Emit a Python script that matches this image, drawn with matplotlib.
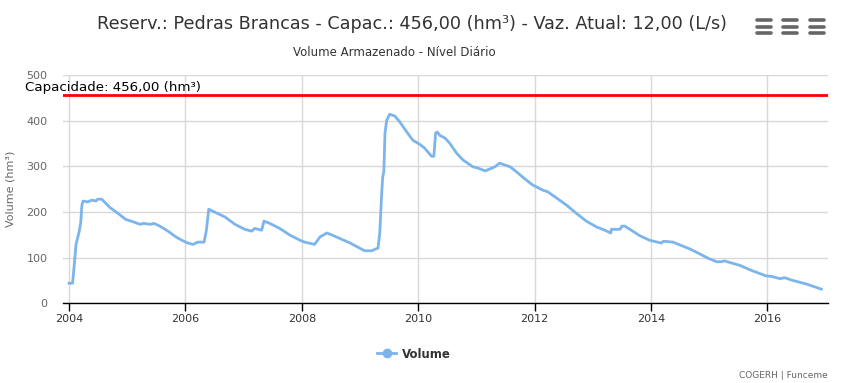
import matplotlib
matplotlib.use("Agg")
import matplotlib.pyplot as plt
from matplotlib.lines import Line2D

# decimal year / volume (hm3)
years = [2004.00, 2004.06, 2004.08, 2004.12, 2004.17, 2004.20, 2004.22, 2004.24, 2004.32, 2004.39,
         2004.46, 2004.49, 2004.56, 2004.70, 2004.84, 2004.97, 2005.11, 2005.22, 2005.28, 2005.39,
         2005.46, 2005.56, 2005.70, 2005.84, 2005.94, 2006.04, 2006.13, 2006.21, 2006.32, 2006.36,
         2006.40, 2006.50, 2006.68, 2006.85, 2007.02, 2007.14, 2007.19, 2007.31, 2007.35, 2007.45,
         2007.62, 2007.80, 2007.97, 2008.05, 2008.22, 2008.31, 2008.43, 2008.53, 2008.83, 2009.08,
         2009.20, 2009.31, 2009.34, 2009.37, 2009.39, 2009.41, 2009.43, 2009.46, 2009.51, 2009.60,
         2009.68, 2009.80, 2009.91, 2010.03, 2010.11, 2010.23, 2010.27, 2010.30, 2010.33, 2010.37,
         2010.46, 2010.54, 2010.66, 2010.77, 2010.94, 2011.03, 2011.15, 2011.23, 2011.32, 2011.40,
         2011.49, 2011.58, 2011.69, 2011.80, 2011.97, 2012.14, 2012.23, 2012.43, 2012.55, 2012.72,
         2012.89, 2013.07, 2013.21, 2013.31, 2013.32, 2013.47, 2013.50, 2013.55, 2013.64, 2013.81,
         2013.98, 2014.18, 2014.22, 2014.38, 2014.67, 2014.72, 2014.98, 2015.13, 2015.22, 2015.26,
         2015.53, 2015.75, 2015.98, 2016.07, 2016.22, 2016.30, 2016.44, 2016.68, 2016.93]
volume = [44, 44, 72, 130, 155, 177, 215, 224, 222, 226,
          224, 228, 228, 210, 197, 184, 178, 173, 175, 173,
          175, 169, 158, 145, 138, 132, 129, 134, 134, 160,
          206, 200, 189, 173, 162, 158, 164, 160, 180, 175,
          164, 149, 138, 134, 129, 145, 154, 149, 132, 115,
          115, 121, 154, 233, 276, 288, 373, 401, 414, 410,
          398, 376, 357, 348, 340, 322, 322, 373, 375, 368,
          362, 351, 329, 314, 299, 296, 290, 294, 299, 307,
          303, 299, 288, 276, 259, 248, 244, 226, 215, 197,
          180, 167, 160, 154, 162, 162, 169, 169, 162, 148,
          138, 132, 136, 134, 119, 116, 99, 91, 91, 93,
          83, 71, 60, 59, 54, 56, 50, 42, 31]
capacity = 456.0
x_ticks = [2004, 2006, 2008, 2010, 2012, 2014, 2016]
y_ticks = [0, 100, 200, 300, 400, 500]

W, H = 856, 383
fig = plt.figure(figsize=(W / 100, H / 100), dpi=100)
ax = fig.add_axes([62.7 / W, 1 - 303.3 / H, (828.3 - 62.7) / W, (303.3 - 75) / H])

ax.plot(years, volume, color="#7cb5ec", lw=2, solid_joinstyle="round", zorder=3)
ax.axhline(capacity, color="#ff0000", lw=2, zorder=4)
ax.text(2003.25, capacity + 3, "Capacidade: 456,00 (hm³)", fontsize=9.6, color="#000000",
        va="bottom", ha="left", zorder=5, clip_on=False)

ax.set_xlim(2003.89, 2017.05)
ax.set_ylim(0, 500)
ax.set_xticks(x_ticks)
ax.set_yticks(y_ticks)
ax.set_xticklabels([str(t) for t in x_ticks])
ax.grid(True, color="#d8d8d8", lw=1)
ax.set_axisbelow(True)
for s in ["top", "right", "left"]:
    ax.spines[s].set_visible(False)
ax.spines["bottom"].set_color("#000000")
ax.spines["bottom"].set_linewidth(1)
ax.tick_params(axis="x", direction="out", length=6, width=1, color="#000000",
               labelsize=8, labelcolor="#333333", pad=2)
ax.tick_params(axis="y", length=0, labelsize=8, labelcolor="#666666", pad=11)
ax.set_ylabel("Volume (hm³)", fontsize=8, color="#666666", labelpad=8)

fig.text(412 / W, 1 - 24 / H, "Reserv.: Pedras Brancas - Capac.: 456,00 (hm³) - Vaz. Atual: 12,00 (L/s)",
         fontsize=12.7, color="#333333", ha="center", va="center")
fig.text(394 / W, 1 - 52 / H, "Volume Armazenado - Nível Diário",
         fontsize=8.5, color="#333333", ha="center", va="center")

# menu buttons
for cx in [764, 790, 817]:
    for cy in [20, 26.5, 33]:
        fig.add_artist(Line2D([(cx - 7) / W, (cx + 7) / W], [1 - cy / H, 1 - cy / H],
                              color="#666666", lw=2.6, solid_capstyle="round"))

h = Line2D([], [], color="#7cb5ec", lw=2, marker="o", markersize=6)
fig.legend(handles=[h], labels=["Volume"], loc="center", bbox_to_anchor=(414 / W, 1 - 354 / H),
           frameon=False, handlelength=1.6, handletextpad=0.5,
           prop={"weight": "bold", "size": 8.5}, labelcolor="#333333")

fig.text(828 / W, 1 - 376 / H, "COGERH | Funceme", fontsize=6.5, color="#666666",
         ha="right", va="center")

fig.savefig("out.png", dpi=100, facecolor="white")
